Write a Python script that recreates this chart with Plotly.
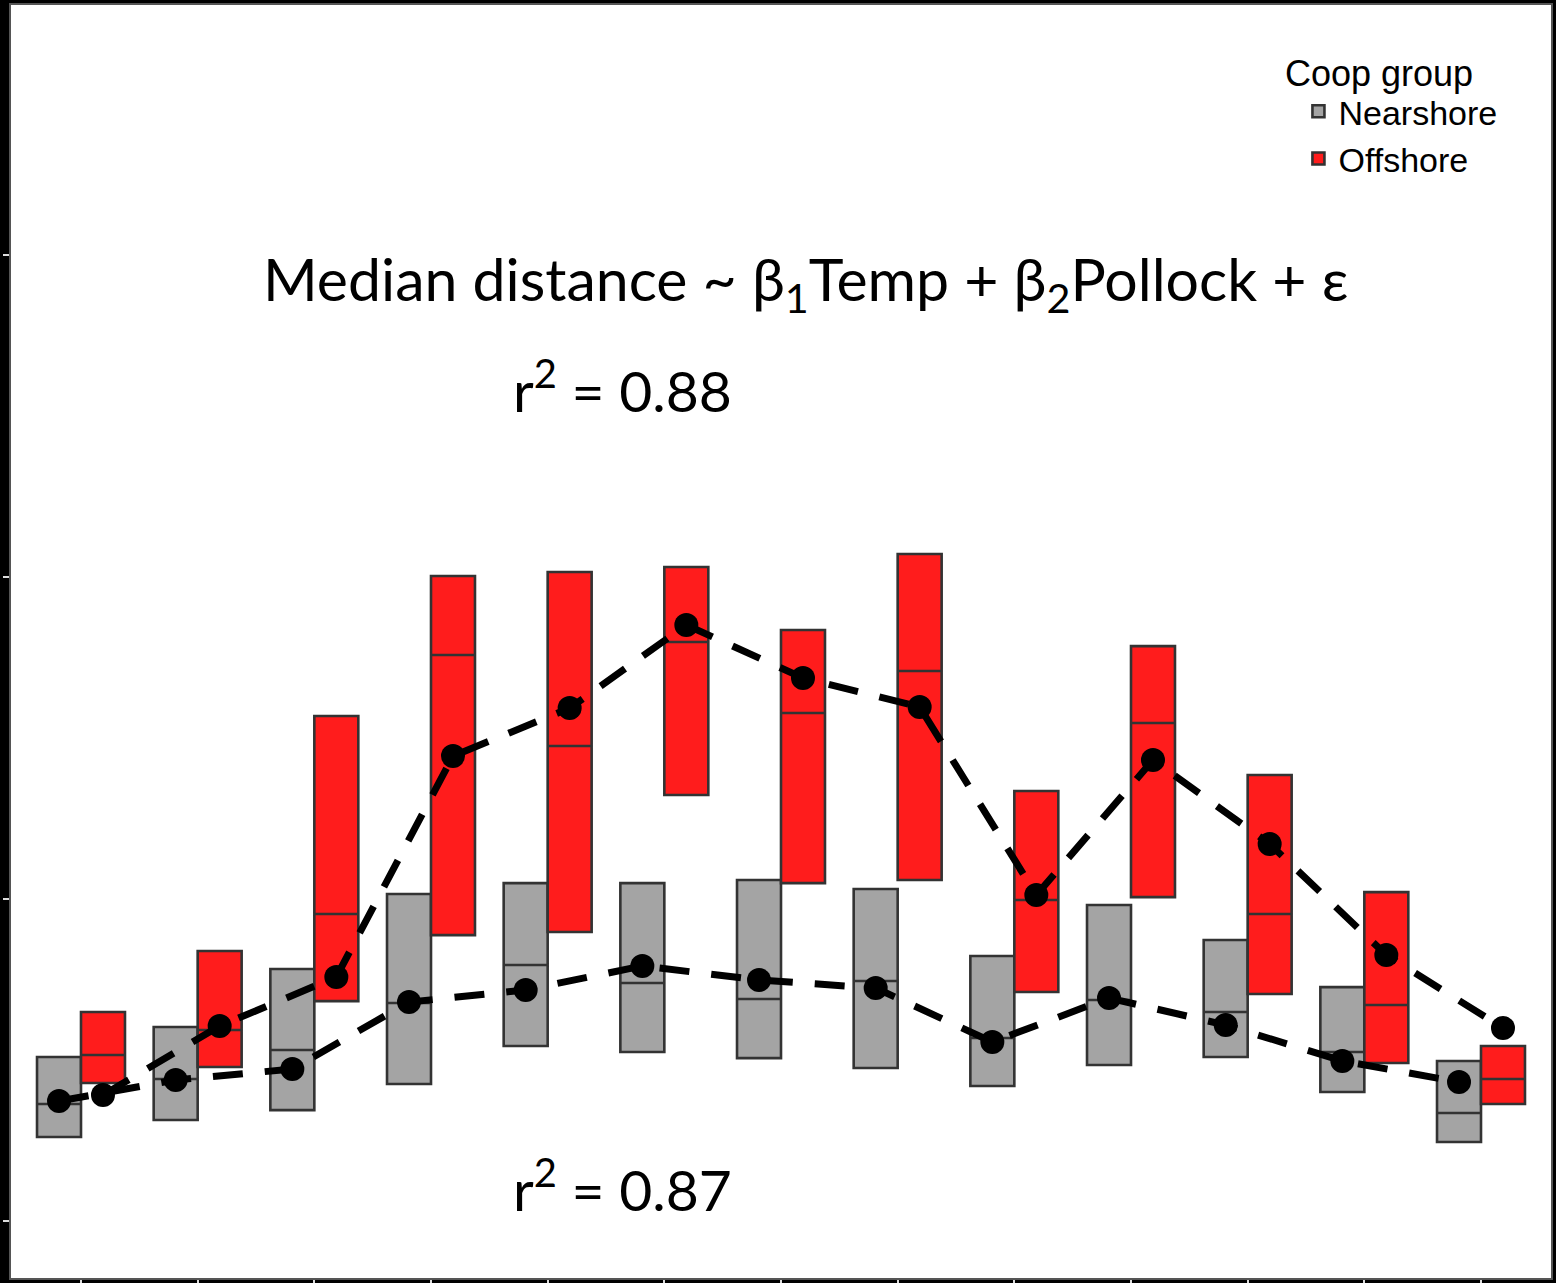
import plotly.graph_objects as go

groups = list(range(1, 14))

# Nearshore boxes (q1, median, q3)
near_q1 = [5.22, 6.27, 6.89, 8.51, 10.87, 10.50, 10.12, 9.50, 8.39, 9.69, 10.19, 8.01, 4.91]
near_med = [7.27, 8.82, 10.62, 13.54, 15.90, 14.78, 13.79, 14.91, 11.37, 13.73, 12.98, 10.50, 6.71]
near_q3 = [10.19, 12.05, 15.65, 20.31, 20.99, 20.99, 21.18, 20.62, 16.46, 19.63, 17.45, 14.53, 9.94]

# Offshore boxes (q1, median, q3)
off_q1 = [8.57, 9.57, 13.66, 17.76, 17.95, 26.46, 20.99, 21.18, 14.22, 20.12, 14.10, 9.81, 7.27]
off_med = [10.31, 11.86, 19.07, 35.16, 29.50, 35.96, 31.55, 34.16, 19.94, 30.93, 19.07, 13.42, 8.82]
off_q3 = [12.98, 16.77, 31.37, 40.06, 40.31, 40.62, 36.71, 41.43, 26.71, 35.71, 27.70, 20.43, 10.87]

# Model fitted values
near_fit = [7.45, 8.76, 9.44, 13.60, 14.35, 15.84, 14.97, 14.47, 11.12, 13.85, 12.17, 9.94, 8.63]
off_fit = [7.83, 12.11, 15.16, 28.88, 31.86, 37.02, 33.73, 31.93, 20.25, 28.63, 23.42, 16.52, 11.99]

y_ticks = [0, 20, 40, 60]

dodge = 0.1885
bw = 0.377
near_x = [g - dodge for g in groups]
off_x = [g + dodge for g in groups]

fig = go.Figure()

fig.add_trace(go.Box(
    name="Nearshore", x=near_x, q1=near_q1, median=near_med, q3=near_q3,
    lowerfence=near_q1, upperfence=near_q3, width=bw,
    fillcolor="#A4A4A4", line=dict(color="#333333", width=2.6),
    boxpoints=False, hoverinfo="skip"))
fig.add_trace(go.Box(
    name="Offshore", x=off_x, q1=off_q1, median=off_med, q3=off_q3,
    lowerfence=off_q1, upperfence=off_q3, width=bw,
    fillcolor="#FF1C1C", line=dict(color="#333333", width=2.6),
    boxpoints=False, hoverinfo="skip"))

for xs, ys in [(near_x, near_fit), (off_x, off_fit)]:
    fig.add_trace(go.Scatter(
        x=xs, y=ys, mode="lines+markers", showlegend=False,
        line=dict(color="black", width=7, dash="30px,22px"),
        marker=dict(color="black", size=24), hoverinfo="skip"))

ann_font = dict(family="Lato", size=59, color="black")
fig.add_annotation(
    text="Median distance ~ β<sub>1</sub>Temp + β<sub>2</sub>Pollock + ε",
    xref="paper", yref="paper", x=0.516, y=0.782, showarrow=False,
    xanchor="center", yanchor="middle", font=ann_font)
fig.add_annotation(
    text="r<sup>2</sup> = 0.88", xref="paper", yref="paper", x=0.397, y=0.700,
    showarrow=False, xanchor="center", yanchor="middle",
    font=dict(family="Lato", size=57, color="black"))
fig.add_annotation(
    text="r<sup>2</sup> = 0.87", xref="paper", yref="paper", x=0.397, y=0.073,
    showarrow=False, xanchor="center", yanchor="middle",
    font=dict(family="Lato", size=57, color="black"))
fig.add_annotation(
    text="Coop group", xref="paper", yref="paper", x=0.826, y=0.946,
    showarrow=False, xanchor="left", yanchor="middle",
    font=dict(family="Liberation Sans", size=36, color="black"))

axis_common = dict(
    showgrid=False, zeroline=False, showline=True, linecolor="#555555",
    linewidth=2, mirror=True, ticks="outside", tickcolor="#dddddd",
    ticklen=6, tickwidth=2, showticklabels=False, automargin=False)

fig.update_layout(
    width=1556, height=1283,
    margin=dict(l=11, r=5, t=5, b=5),
    paper_bgcolor="black", plot_bgcolor="white",
    boxmode="overlay",
    xaxis=dict(range=[0.4, 13.6], tickvals=groups, **axis_common),
    yaxis=dict(range=[-3.54, 75.53], tickvals=y_ticks, **axis_common),
    legend=dict(
        font=dict(family="Liberation Sans", size=34, color="black"),
        x=0.836, y=0.939, xanchor="left", yanchor="top",
        bgcolor="rgba(0,0,0,0)", tracegroupgap=0),
)

fig.write_html("out.html")
